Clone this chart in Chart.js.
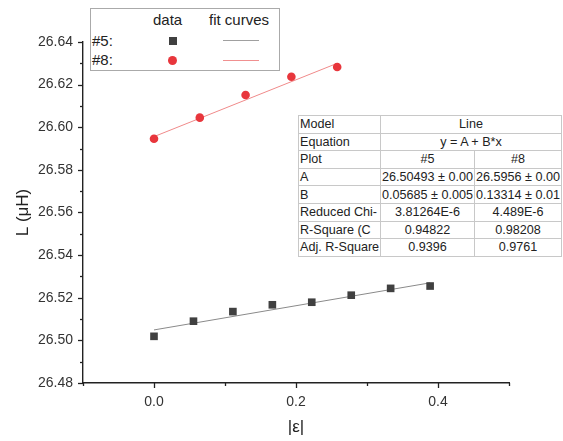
<!DOCTYPE html>
<html><head><meta charset="utf-8">
<script src="https://cdn.jsdelivr.net/npm/chart.js@4/dist/chart.umd.min.js"></script>
<style>
body{margin:0;background:#fff;font-family:"Liberation Sans",Arial,sans-serif;color:#222;}
#wrap{position:relative;width:563px;height:441px;overflow:hidden;}
#legend{position:absolute;left:90px;top:8px;width:188px;height:61px;border:1px solid #aaa;background:#fff;font-size:15px;}
#legend .t{position:absolute;white-space:nowrap;line-height:16px;}
#legend .sq{position:absolute;width:8px;height:8px;background:#404040;}
#legend .ci{position:absolute;width:9px;height:9px;border-radius:50%;background:#e8363c;}
#legend .ln{position:absolute;width:36px;height:0;border-top:1px solid;}
#tbl{position:absolute;left:298px;top:115px;border-collapse:collapse;background:#fff;font-size:12.6px;table-layout:fixed;width:263px;border:1px solid #999;}
#tbl td{border:1px solid #c8c8c8;height:16.6px;padding:0 1px;white-space:nowrap;overflow:hidden;line-height:16px;}
#tbl td.c{text-align:center;}
</style></head><body>
<div id="wrap">
<canvas id="c" width="563" height="441"></canvas>
<div id="legend"></div>
<table id="tbl"><colgroup><col style="width:82px"><col style="width:94px"><col style="width:87px"></colgroup><tbody id="tb"></tbody></table>
</div>
<script>
// ---- data ----
const x5 = [0, 0.0556, 0.1111, 0.1667, 0.2222, 0.2778, 0.3333, 0.3889];
const y5 = [26.5019, 26.5090, 26.5135, 26.5167, 26.5179, 26.5212, 26.5244, 26.5255];
const x8 = [0, 0.0645, 0.129, 0.1935, 0.258];
const y8 = [26.5946, 26.6045, 26.6151, 26.6237, 26.6283];
const fit5X = [0, 0.3889];
const fit5Y = [26.5049, 26.5270];
const fit8X = [0, 0.258];
const fit8Y = [26.5956, 26.6300];
const seriesNames = ['#5:', '#8:'];
const legendHeaders = ['data', 'fit curves'];
const tableLabels = ['Model', 'Equation', 'Plot', 'A', 'B', 'Reduced Chi-', 'R-Square (C', 'Adj. R-Square'];
const tableModel = 'Line';
const tableEquation = 'y = A + B*x';
const tableCol5 = ['#5', '26.50493 ± 0.00', '0.05685 ± 0.005', '3.81264E-6', '0.94822', '0.9396'];
const tableCol8 = ['#8', '26.5956 ± 0.00', '0.13314 ± 0.01', '4.489E-6', '0.98208', '0.9761'];
const xMin = -0.1, xMax = 0.5, yMin = 26.48, yMax = 26.64;

// ---- table ----
const tb = document.getElementById('tb');
tableLabels.forEach((lab, i) => {
  const tr = document.createElement('tr');
  const td0 = document.createElement('td'); td0.textContent = lab; tr.appendChild(td0);
  if (i < 2) {
    const td = document.createElement('td'); td.colSpan = 2; td.className = 'c';
    td.textContent = i === 0 ? tableModel : tableEquation; tr.appendChild(td);
  } else {
    [tableCol5, tableCol8].forEach(col => {
      const td = document.createElement('td'); td.className = 'c';
      td.textContent = col[i - 2]; tr.appendChild(td);
    });
  }
  tb.appendChild(tr);
});

// ---- legend ----
const lg = document.getElementById('legend');
lg.innerHTML =
  `<div class="t" style="left:62px;top:3px">${legendHeaders[0]}</div>` +
  `<div class="t" style="left:118px;top:3px">${legendHeaders[1]}</div>` +
  `<div class="t" style="left:1px;top:24px">${seriesNames[0]}</div>` +
  `<div class="t" style="left:1px;top:43px">${seriesNames[1]}</div>` +
  `<div class="sq" style="left:78px;top:28px"></div>` +
  `<div class="ci" style="left:77px;top:47px"></div>` +
  `<div class="ln" style="left:132px;top:31px;border-color:#a0a0a0"></div>` +
  `<div class="ln" style="left:132px;top:51px;border-color:#f09090"></div>`;

const toPts = (xs, ys) => xs.map((x, i) => ({x, y: ys[i]}));

const tickPlugin = {
  id: 'ticks',
  afterDraw(chart) {
    const {ctx, chartArea} = chart;
    const xs = chart.scales.x, ys = chart.scales.y;
    ctx.save();
    ctx.strokeStyle = '#222';
    ctx.lineWidth = 1.3;
    ys.ticks.forEach(t => {
      const major = Math.round(t.value * 100) % 2 === 0;
      const len = major ? 5 : 3;
      const py = Math.round(ys.getPixelForValue(t.value)) + 0.5;
      ctx.beginPath(); ctx.moveTo(chartArea.left - len, py); ctx.lineTo(chartArea.left, py); ctx.stroke();
    });
    xs.ticks.forEach(t => {
      const major = Math.round(t.value * 10) % 2 === 0;
      const len = major ? 5 : 3;
      const px = Math.round(xs.getPixelForValue(t.value)) + 0.5;
      ctx.beginPath(); ctx.moveTo(px, chartArea.bottom); ctx.lineTo(px, chartArea.bottom + len); ctx.stroke();
    });
    ctx.restore();
  }
};

new Chart(document.getElementById('c'), {
  type: 'scatter',
  data: {
    datasets: [
      {label: '#5', data: toPts(x5, y5), pointStyle: 'rect', pointRadius: 5.4, backgroundColor: '#404040', borderColor: '#404040', borderWidth: 0},
      {label: '#8', data: toPts(x8, y8), pointStyle: 'circle', pointRadius: 4.3, backgroundColor: '#e8363c', borderColor: '#e8363c', borderWidth: 0},
      {label: 'fit5', data: toPts(fit5X, fit5Y), showLine: true, pointRadius: 0, borderColor: '#8a8a8a', borderWidth: 1},
      {label: 'fit8', data: toPts(fit8X, fit8Y), showLine: true, pointRadius: 0, borderColor: '#f08a8a', borderWidth: 1}
    ]
  },
  options: {
    responsive: false,
    devicePixelRatio: 1,
    animation: false,
    events: [],
    layout: {padding: {top: 42, right: 54, left: 0, bottom: 0}},
    plugins: {legend: {display: false}, tooltip: {enabled: false}},
    scales: {
      x: {
        type: 'linear', min: xMin, max: xMax,
        afterFit(s) { s.height = 58; },
        grid: {display: false, drawTicks: true, tickLength: 5},
        border: {display: true, color: '#222', width: 1.4},
        ticks: {
          stepSize: 0.1, autoSkip: false, maxRotation: 0, padding: 6,
          color: '#333', font: {family: '"Liberation Sans", Arial, sans-serif', size: 14},
          callback: v => { const k = Math.round(v * 10); return (k % 2 === 0 && k >= 0 && k <= 4) ? (k / 10).toFixed(1) : ''; }
        },
        title: {display: true, text: '|ε|', color: '#222', font: {family: '"Liberation Sans", Arial, sans-serif', size: 17}, padding: {top: 0, bottom: 3}}
      },
      y: {
        type: 'linear', min: yMin, max: yMax,
        afterFit(s) { s.width = 83; },
        grid: {display: false, drawTicks: true, tickLength: 5},
        border: {display: true, color: '#222', width: 1.4},
        ticks: {
          stepSize: 0.01, autoSkip: false, padding: 5,
          color: '#333', font: {family: '"Liberation Sans", Arial, sans-serif', size: 14},
          callback: v => { const k = Math.round(v * 100); return k % 2 === 0 ? (k / 100).toFixed(2) : ''; }
        },
        title: {display: true, text: 'L (μH)', color: '#222', font: {family: '"Liberation Sans", Arial, sans-serif', size: 17}, padding: {top: 13, bottom: 0}}
      }
    }
  },
  plugins: [tickPlugin]
});
</script>
</body></html>
